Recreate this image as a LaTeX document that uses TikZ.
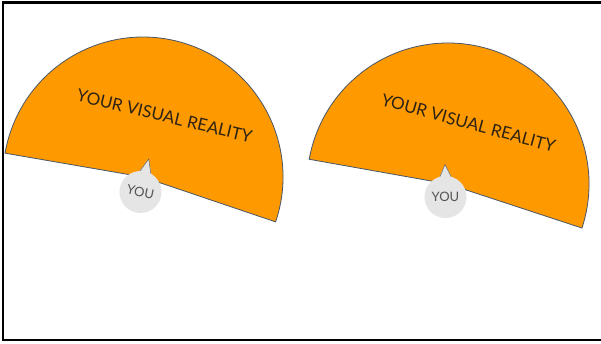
\documentclass[tikz,border=0pt]{standalone}
\usepackage{fontspec}
\newfontfamily\lato{Lato}
\definecolor{sectorfill}{RGB}{255,153,0}
\definecolor{sectorline}{RGB}{72,86,104}
\definecolor{bubblefill}{RGB}{229,229,229}
\definecolor{bubbletext}{RGB}{85,85,85}
\definecolor{labeltext}{RGB}{45,35,20}
\tikzset{
  sector/.style={fill=sectorfill, draw=sectorline, line width=0.8pt, line join=miter},
  reality/.style={font=\lato\fontsize{17}{20}\selectfont, text=labeltext, inner sep=0pt},
  bubble/.style={circle, fill=bubblefill, minimum size=42pt, inner sep=0pt,
                 font=\lato\fontsize{13}{15}\selectfont, text=bubbletext},
  pointer/.style={fill=bubblefill},
  pointeredge/.style={draw=gray!80!black, line width=0.5pt},
  frame/.style={draw=black, line width=2.6pt}
}
\begin{document}
\begin{tikzpicture}[x=1pt,y=1pt]
\useasboundingbox (0,0) rectangle (601,343);
\clip (0,0) rectangle (601,343);
\fill[white] (0,0) rectangle (601,343);
\draw[frame] (3,3) rectangle (620,340.5);

% left group
\coordinate (cA) at (143,166);
\draw[sector] (cA) -- ++(-18.7:140) arc[start angle=-18.7, end angle=170.2, radius=140] -- cycle;
\node[reality, rotate=-13.5] (realA) at (164.5,227) {YOUR VISUAL REALITY};
\coordinate (pA) at (140.5,151);
\begin{scope}[shift={(pA)}, rotate=-14]
  \fill[pointer] (-6.5,19) -- (0,34) -- (6.5,19) -- cycle;
  \draw[pointeredge] (-5.5,20.3) -- (0,34) -- (5.5,20.3);
\end{scope}
\node[bubble, rotate=-12] (youA) at (pA) {YOU};

% right group
\coordinate (cB) at (448,159);
\draw[sector] (cB) -- ++(-18.2:141) arc[start angle=-18.2, end angle=169.9, radius=141] -- cycle;
\node[reality, rotate=-15.2] (realB) at (468.5,220) {YOUR VISUAL REALITY};
\coordinate (pB) at (445.5,146);
\begin{scope}[shift={(pB)}]
  \fill[pointer] (-6.5,19) -- (-0.5,32.5) -- (6.5,19) -- cycle;
  \draw[pointeredge] (-5.5,20.3) -- (-0.5,32.5) -- (5.5,20.3);
\end{scope}
\node[bubble] (youB) at (pB) {YOU};
\end{tikzpicture}
\end{document}
